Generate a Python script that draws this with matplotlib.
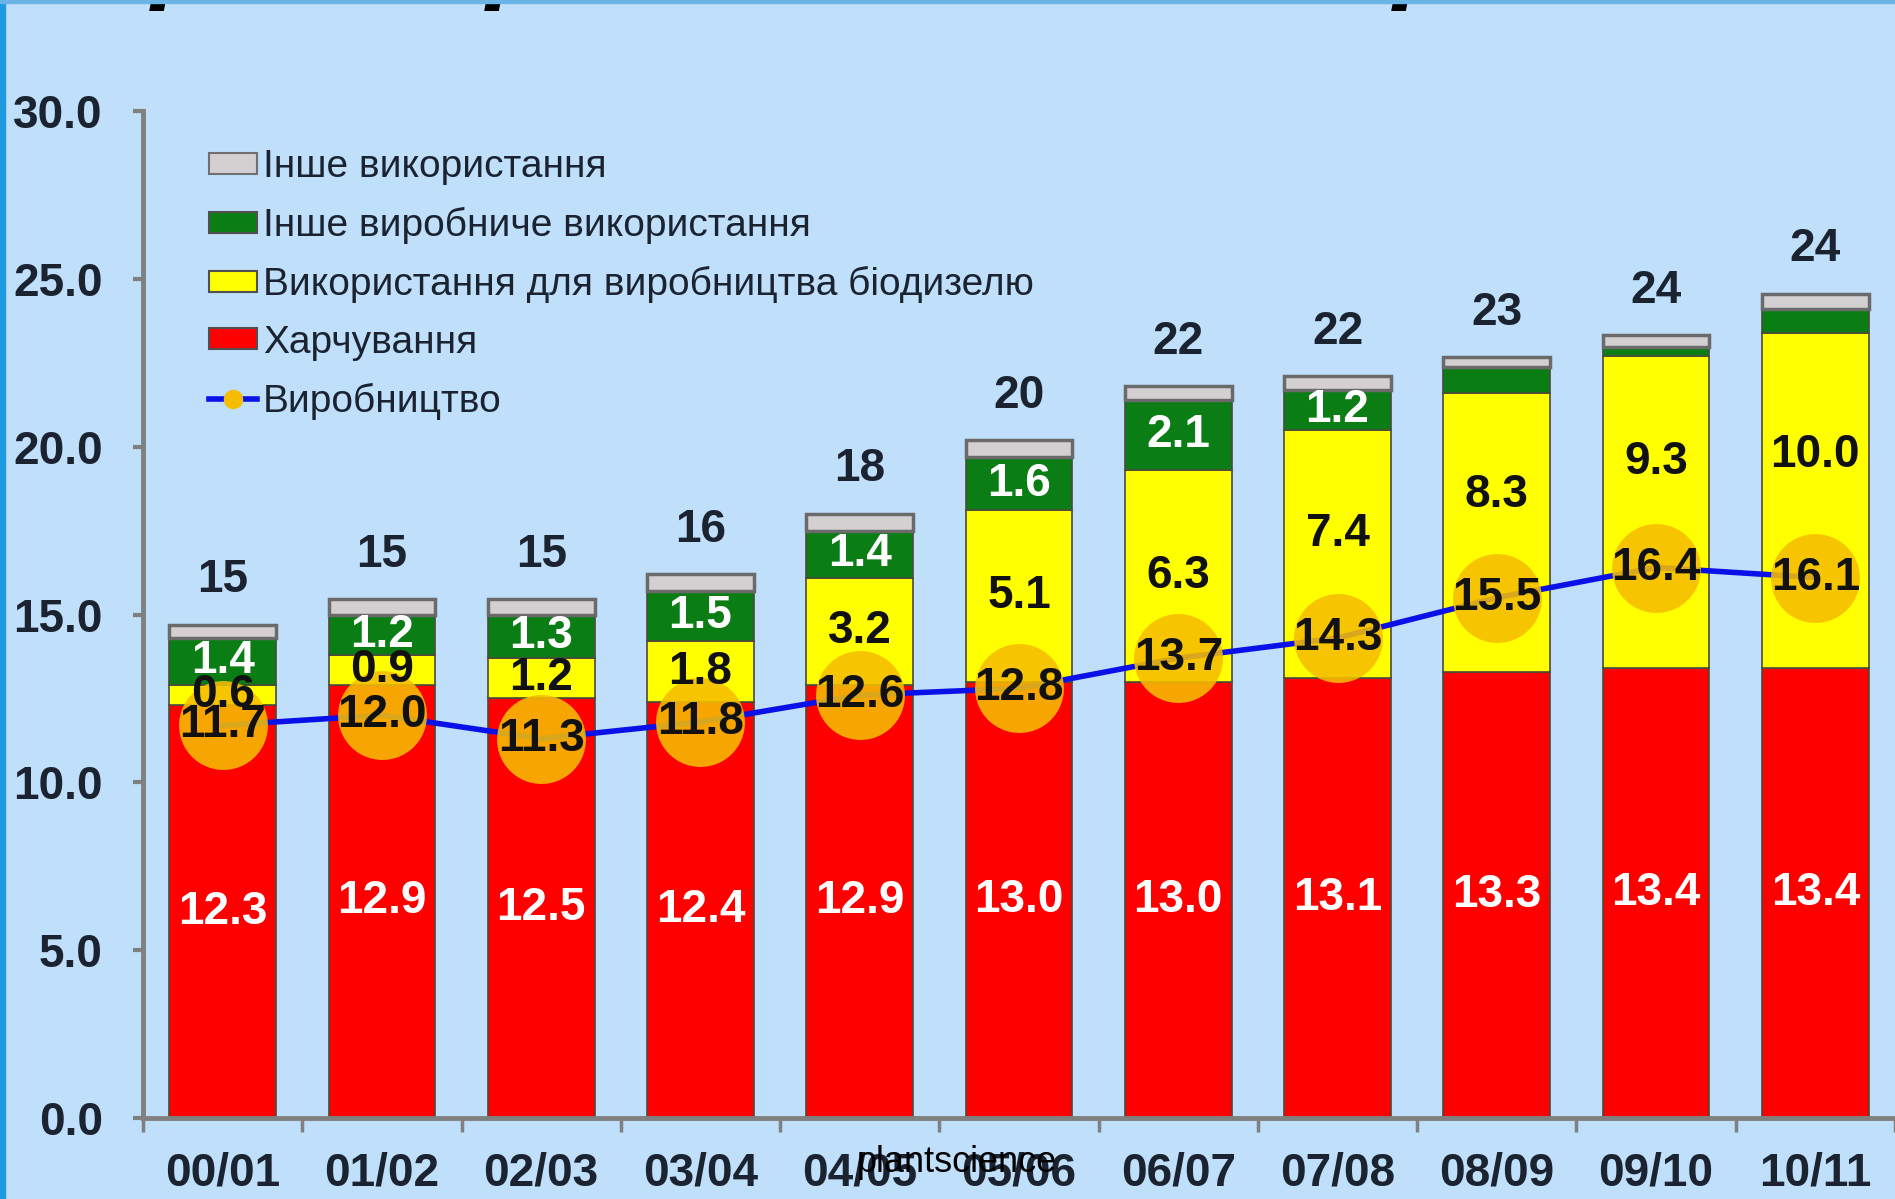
import numpy as np
import matplotlib.pyplot as plt
from matplotlib.patches import Patch, Rectangle
from matplotlib.lines import Line2D

# data
seasons = ['00/01', '01/02', '02/03', '03/04', '04/05', '05/06',
           '06/07', '07/08', '08/09', '09/10', '10/11']
food = [12.3, 12.9, 12.5, 12.4, 12.9, 13.0, 13.0, 13.1, 13.3, 13.4, 13.4]
biodiesel = [0.6, 0.9, 1.2, 1.8, 3.2, 5.1, 6.3, 7.4, 8.3, 9.3, 10.0]
industrial = [1.4, 1.2, 1.3, 1.5, 1.4, 1.6, 2.1, 1.2, 0.77, 0.27, 0.7]
other = [0.4, 0.45, 0.45, 0.5, 0.5, 0.5, 0.4, 0.4, 0.3, 0.35, 0.45]
totals = [15, 15, 15, 16, 18, 20, 22, 22, 23, 24, 24]
production = [11.7, 12.0, 11.3, 11.8, 12.6, 12.8, 13.7, 14.3, 15.5, 16.4, 16.1]

legend_labels = ['Інше використання', 'Інше виробниче використання',
                 'Використання для виробництва біодизелю', 'Харчування',
                 'Виробництво']

bg = '#bfdffa'
c_red, c_yel, c_grn, c_gry = '#ff0000', '#ffff00', '#0a7d14', '#d4d0d2'
edge = '#4a4a3a'
dark = '#1b2230'
font = 'Liberation Sans'

fig = plt.figure(figsize=(18.95, 11.99), dpi=100, facecolor=bg)
ax = fig.add_axes([143 / 1895, 81 / 1199, 1 - 143 / 1895, 1007 / 1199])
ax.set_facecolor(bg)

x = np.arange(len(seasons))
w = 0.67
food = np.array(food)
biodiesel = np.array(biodiesel)
industrial = np.array(industrial)
other = np.array(other)
b1 = food
b2 = b1 + biodiesel
b3 = b2 + industrial
top = b3 + other

ax.bar(x, food, w, color=c_red, edgecolor=edge, linewidth=1.2, zorder=2)
ax.bar(x, biodiesel, w, bottom=b1, color=c_yel, edgecolor=edge, linewidth=1.2, zorder=2)
ax.bar(x, industrial, w, bottom=b2, color=c_grn, edgecolor=edge, linewidth=1.2, zorder=2)
ax.bar(x, other, w, bottom=b3, color=c_gry, edgecolor='#6a6a6a', linewidth=2.5, zorder=2)

# production line
ax.plot(x, production, color='#0a10e8', lw=4, zorder=3)
ax.plot(x, production, 'o', ms=64, color='#f6bd00', alpha=0.88, mec='none', zorder=4)

tk = dict(ha='center', va='center', fontweight='bold', family=font, zorder=6)
for i in range(len(x)):
    ax.text(x[i], food[i] / 2, f'{food[i]:.1f}', color='white', fontsize=33, **tk)
    ymid = b1[i] + biodiesel[i] / 2
    if production[i] > b1[i] + 1.0:
        ymid = (production[i] + b2[i]) / 2
    ax.text(x[i], ymid, f'{biodiesel[i]:.1f}', color='#111111', fontsize=33, **tk)
    if industrial[i] >= 1.0:
        ax.text(x[i], b2[i] + industrial[i] / 2, f'{industrial[i]:.1f}',
                color='white', fontsize=33, **tk)
    ax.text(x[i], production[i], f'{production[i]:.1f}', color='#111111',
            fontsize=33, **tk)
    ax.annotate(str(totals[i]), (x[i], top[i]), xytext=(0, 32),
                textcoords='offset points', color=dark, fontsize=33, **tk)

ax.set_xlim(-0.5, 10.5)
ax.set_ylim(0, 30)
ax.set_yticks(np.arange(0, 31, 5))
ax.set_yticklabels([f'{v:.1f}' for v in np.arange(0, 31, 5)])
ax.set_xticks(x)
ax.set_xticklabels(seasons)
ax.set_xticks(np.arange(-0.5, 11, 1), minor=True)
ax.tick_params(axis='x', which='major', length=0, pad=24)
ax.tick_params(axis='x', which='minor', length=10, width=2.5, color='#808080')
ax.tick_params(axis='y', length=7, width=3, color='#808080', pad=22)
for lab in ax.get_xticklabels() + ax.get_yticklabels():
    lab.set_fontsize(33)
    lab.set_fontweight('bold')
    lab.set_family(font)
    lab.set_color(dark)
for s in ['top', 'right']:
    ax.spines[s].set_visible(False)
for s in ['left', 'bottom']:
    ax.spines[s].set_color('#808080')
    ax.spines[s].set_linewidth(3.5)

handles = [Patch(fc=c_gry, ec='#707070', lw=1.5),
           Patch(fc=c_grn, ec='#505050', lw=1.5),
           Patch(fc=c_yel, ec='#505050', lw=1.5),
           Patch(fc=c_red, ec='#505050', lw=1.5),
           Line2D([], [], color='#0a10e8', lw=4, marker='o', ms=13,
                  mfc='#f6bd00', mec='#f6bd00')]
leg = ax.legend(handles, legend_labels, loc='upper left',
                bbox_to_anchor=(0.0375, 0.962), frameon=False,
                prop={'family': font, 'size': 28}, labelspacing=0.56,
                handlelength=1.25, handleheight=0.45, handletextpad=0.15,
                borderpad=0, borderaxespad=0)
for t in leg.get_texts():
    t.set_color(dark)

# watermark
fig.text(957 / 1895, 1 - 1163 / 1199, 'plantscience', ha='center', va='center',
         fontsize=26, family=font, color='black')

# left border and cut-off title glyphs at the top edge
fig.patches.append(Rectangle((0, 0), 5 / 1895, 1, transform=fig.transFigure,
                             color='#1e9be0', zorder=10))
fig.patches.append(Rectangle((0, 1 - 3 / 1199), 1, 3 / 1199, transform=fig.transFigure,
                             color='#6ab4e6', zorder=10))
for px in [150, 485, 1392]:
    fig.text(px / 1895, 1 + 6 / 1199, 'р', fontsize=60, fontweight='bold',
             fontstyle='italic', family='DejaVu Sans', va='baseline', ha='left')

fig.savefig('out.png', dpi=100, facecolor=bg)
